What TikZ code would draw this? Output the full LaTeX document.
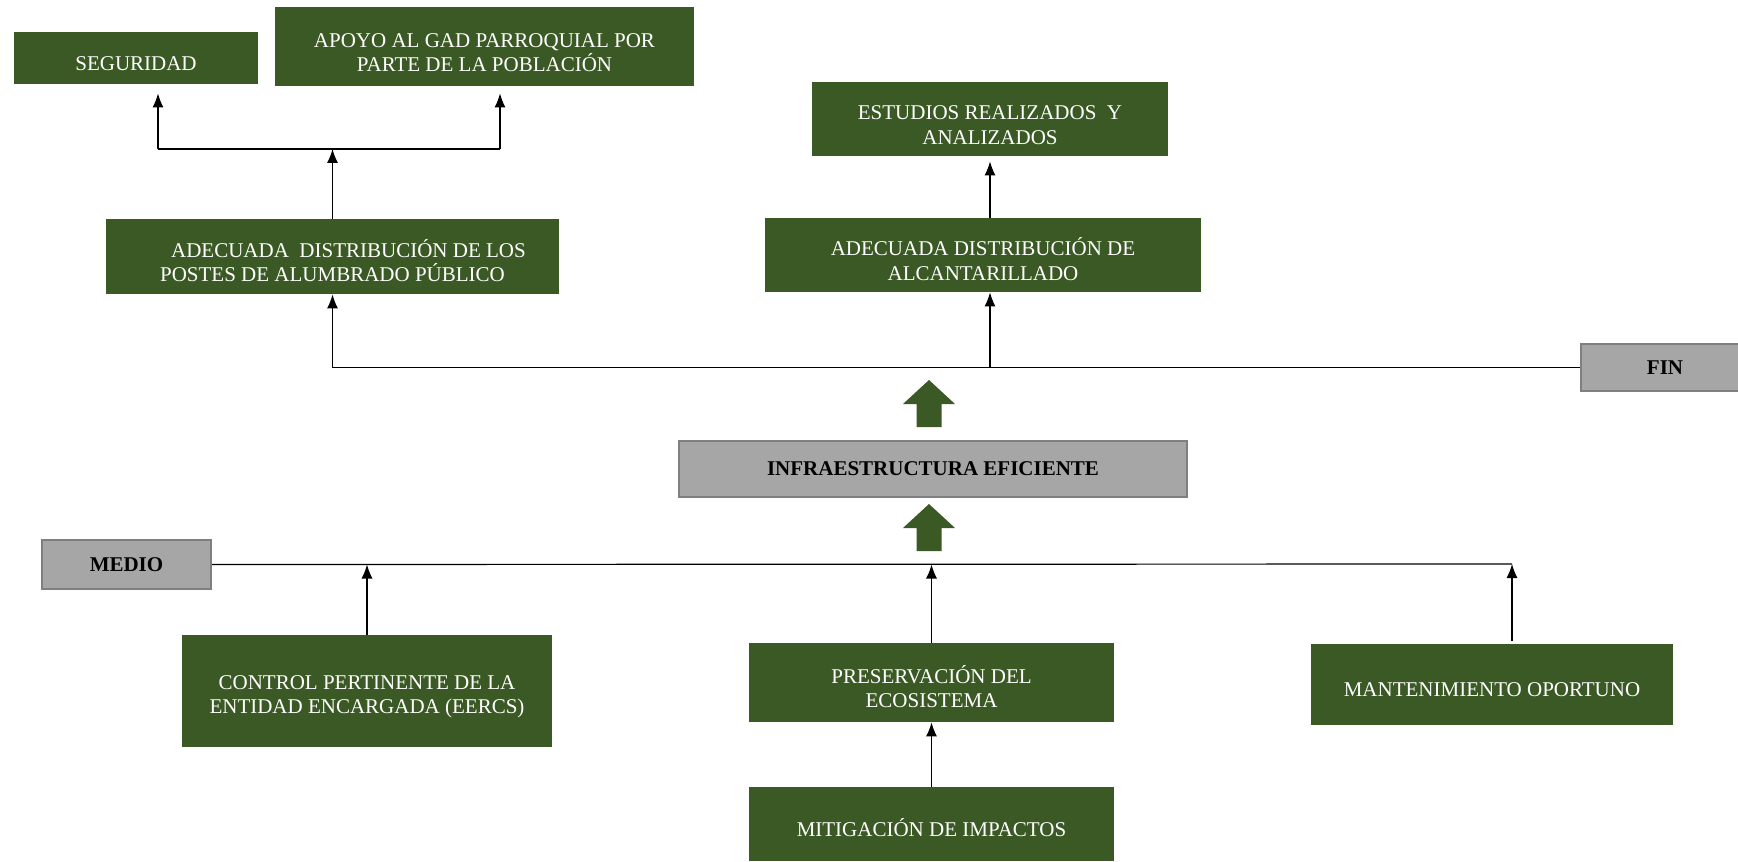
\documentclass[tikz,border=0pt]{standalone}
\usepackage{fontspec}
\setmainfont{Liberation Serif}
\usetikzlibrary{arrows.meta, positioning, calc}
\definecolor{verde}{RGB}{59,89,36}
\definecolor{gris}{RGB}{166,166,166}
\definecolor{grisborde}{RGB}{127,127,127}
\newcommand{\lift}{\rule{0pt}{13pt}}

\begin{document}
\begin{tikzpicture}[x=0.5pt, y=-0.5pt]
	\tikzstyle{goal} = [rectangle, fill=verde, text=white, inner sep=0, align=center, font=\fontsize{10.5}{12.2}\selectfont, execute at begin node={\rule{0pt}{12.5pt}}]
	\tikzstyle{level} = [rectangle, fill=gris, draw=grisborde, line width=1pt, inner sep=0, align=center, font=\fontsize{10.5}{12.2}\selectfont\bfseries]
	\tikzstyle{directed_line} = [-{Latex[length=7pt, width=5.5pt]}, line width=0.6pt]
	\tikzstyle{plain_line} = [line width=0.6pt]
	\tikzstyle{block_arrow} = [fill=verde]

	\useasboundingbox (0,0) rectangle (1738,861);

	% Fines
	\node[goal, minimum width=122pt, minimum height=26pt](seguridad) at (136,58) {SEGURIDAD};
	\node[goal, minimum width=209.5pt, minimum height=39.5pt](apoyo) at (484.5,46.5) {\lift APOYO AL GAD PARROQUIAL POR\\PARTE DE LA POBLACIÓN};
	\node[goal, minimum width=178pt, minimum height=37pt](estudios) at (990,119) {\lift ESTUDIOS REALIZADOS\ \ Y\\ANALIZADOS};
	\node[goal, minimum width=226.5pt, minimum height=37.5pt](alumbrado) at (332.5,256.5) {\lift\hspace*{16pt}ADECUADA\ \ DISTRIBUCIÓN DE LOS\\POSTES DE ALUMBRADO PÚBLICO};
	\node[goal, minimum width=218pt, minimum height=37pt](alcantarillado) at (983,255) {\lift ADECUADA DISTRIBUCIÓN DE\\ALCANTARILLADO};
	\node[level, minimum width=84pt, minimum height=23.5pt](fin) at (1665,367.5) {FIN};

	% Proposito
	\node[level, minimum width=254pt, minimum height=28pt](infra) at (933,469) {INFRAESTRUCTURA EFICIENTE};
	\foreach \base in {427, 551} {
		\fill[block_arrow] (916.5,\base) -- ++(0,-23) -- ++(-13.5,0) -- ++(26,-24) -- ++(26,24) -- ++(-13.5,0) -- ++(0,23) -- cycle;
	};

	% Medios
	\node[level, minimum width=84.5pt, minimum height=24.5pt](medio) at (126.5,564.5) {MEDIO};
	\node[goal, minimum width=185pt, minimum height=56pt](control) at (367,691) {\lift CONTROL PERTINENTE DE LA\\ENTIDAD ENCARGADA (EERCS)};
	\node[goal, minimum width=182.5pt, minimum height=39.5pt](preservacion) at (931.5,682.5) {\lift PRESERVACIÓN DEL\\ECOSISTEMA};
	\node[goal, minimum width=181pt, minimum height=40.5pt](mantenimiento) at (1492,684.5) {MANTENIMIENTO OPORTUNO};
	\node[goal, minimum width=182.5pt, minimum height=37pt](mitigacion) at (931.5,824) {MITIGACIÓN DE IMPACTOS};

	% Upper connectors
	\coordinate (fork_l) at (158,149);
	\coordinate (fork_r) at (500,149);
	\draw[plain_line] (fork_l) -- (fork_r);
	\draw[directed_line] (alumbrado.north) -- (alumbrado.north |- fork_l);
	\draw[directed_line, shorten >=4.5pt] (fork_l) -- (fork_l |- seguridad.south);
	\draw[directed_line, shorten >=3.5pt] (fork_r) -- (fork_r |- apoyo.south);
	\draw[directed_line] (fin.west) -| (alumbrado.south);
	\draw[directed_line] (estudios.south |- fin.west) -- (estudios.south |- alcantarillado.south);
	\draw[directed_line, shorten >=2.5pt] (estudios.south |- alcantarillado.north) -- (estudios.south);

	% Lower connectors
	\coordinate (medio_end) at (1512,564);
	\draw[plain_line] (medio.east) -- (medio_end);
	\draw[directed_line] (control.north) -- (control.north |- medio.east);
	\draw[directed_line] (preservacion.north) -- (preservacion.north |- medio.east);
	\draw[directed_line, shorten <=1.5pt] (mantenimiento.north -| medio_end) -- (medio_end);
	\draw[directed_line] (mitigacion.north) -- (preservacion.south);

\end{tikzpicture}
\end{document}
